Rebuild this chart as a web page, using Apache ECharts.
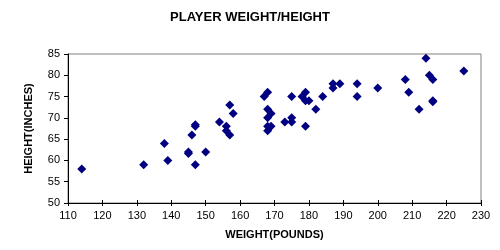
<!DOCTYPE html>
<html><head><meta charset="utf-8">
<script src="https://cdn.jsdelivr.net/npm/echarts@6/dist/echarts.min.js"></script>
<style>html,body{margin:0;padding:0;background:#fff}#c{width:500px;height:250px}</style>
</head><body><div id="c"></div>
<script>
const titleText = "PLAYER WEIGHT/HEIGHT";
const xName = "WEIGHT(POUNDS)";
const yName = "HEIGHT(INCHES)";
const xTicks = [110,120,130,140,150,160,170,180,190,200,210,220,230];
const yTicks = [50,55,60,65,70,75,80,85];
const weights = [114,132,138,139,145,145,146,147,147,147,150,154,156,156,157,157,158,167,168,168,169,168,168,169,168,173,175,175,175,178,179,179,180,179,182,184,187,187,189,194,194,200,208,209,212,214,215,216,216,216,225];
const heights = [58,59,64,60,62,61.6,66,68,68.4,59,62,69,68,67,66,73,71,75,76,72,71,70,68,68,67,69,70,69,75,75,76,74,74,68,72,75,77,78,78,78,75,77,79,76,72,84,80,79,74,73.8,81];
const pts = weights.map((w,i)=>[w,heights[i]]);
const font = 'Arial, "Liberation Sans", sans-serif';
const chart = echarts.init(document.getElementById('c'));
chart.setOption({
  animation:false,
  backgroundColor:'#fff',
  title:{text:titleText,left:'center',top:6,textStyle:{fontFamily:font,fontSize:13,fontWeight:'bold',color:'#000'}},
  grid:{left:68,right:19,top:54,bottom:47,show:true,borderColor:'#808080',borderWidth:1},
  xAxis:[{
    type:'value',min:xTicks[0],max:xTicks[xTicks.length-1],interval:10,
    name:xName,nameLocation:'middle',nameGap:26,
    nameTextStyle:{fontFamily:font,fontSize:11,fontWeight:'bold',color:'#000'},
    axisLine:{lineStyle:{color:'#000'}},
    axisTick:{length:3,lineStyle:{color:'#000'}},
    axisLabel:{fontFamily:font,fontSize:11,color:'#000',margin:7},
    splitLine:{show:false}
  },{
    type:'value',min:xTicks[0],max:xTicks[xTicks.length-1],interval:10,position:'bottom',
    axisLine:{show:false},axisTick:{inside:true,length:3,lineStyle:{color:'#000'}},
    axisLabel:{show:false},splitLine:{show:false}
  }],
  yAxis:{
    type:'value',min:yTicks[0],max:yTicks[yTicks.length-1],interval:5,
    name:yName,nameLocation:'middle',nameGap:34,nameRotate:90,
    nameTextStyle:{fontFamily:font,fontSize:11,fontWeight:'bold',color:'#000'},
    axisLine:{show:true,lineStyle:{color:'#000'}},
    axisTick:{show:true,length:4,lineStyle:{color:'#000'}},
    axisLabel:{fontFamily:font,fontSize:11,color:'#000',margin:8},
    splitLine:{show:false}
  },
  series:[{type:'scatter',data:pts,symbol:'diamond',symbolSize:9,itemStyle:{color:'#000080',opacity:1}}]
});
</script></body></html>
